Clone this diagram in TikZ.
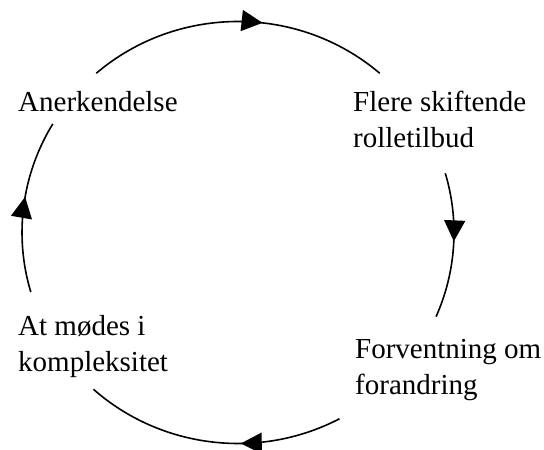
\documentclass[tikz,border=0pt]{standalone}
\usepackage{fontspec}
\setmainfont{Liberation Serif}
\usetikzlibrary{arrows.meta,decorations.markings}
\tikzset{
  cyctext/.style={anchor=base west,inner sep=0pt,align=left,font=\fontsize{29}{36}\selectfont},
  ring/.style={line width=1.6pt},
  midarrow/.style={postaction={decorate},decoration={markings,
      mark=at position #1 with {\arrow{Triangle[length=21pt,width=21pt]}}}}
}
\begin{document}
\begin{tikzpicture}[x=1pt,y=1pt]
    \useasboundingbox (0,0) rectangle (544,450);
    \coordinate (O) at (238,217.5);
    \node[cyctext] (ack) at (18,338) {Anerkendelse};
    \node[cyctext] (roles) at (353,302) {Flere skiftende\\rolletilbud};
    \node[cyctext] (expect) at (355,55) {Forventning om\\forandring};
    \node[cyctext] (complex) at (18,78) {At mødes i\\kompleksitet};
    \foreach \a/\b/\p in {131/49/0.58,16.3/-23.5/0.47,-62/-132/0.39,196.4/149/0.55}{
      \draw[ring,midarrow=\p] (O) ++(\a:216 and 211)
        arc[start angle=\a,end angle=\b,x radius=216,y radius=211];
    }
\end{tikzpicture}
\end{document}
